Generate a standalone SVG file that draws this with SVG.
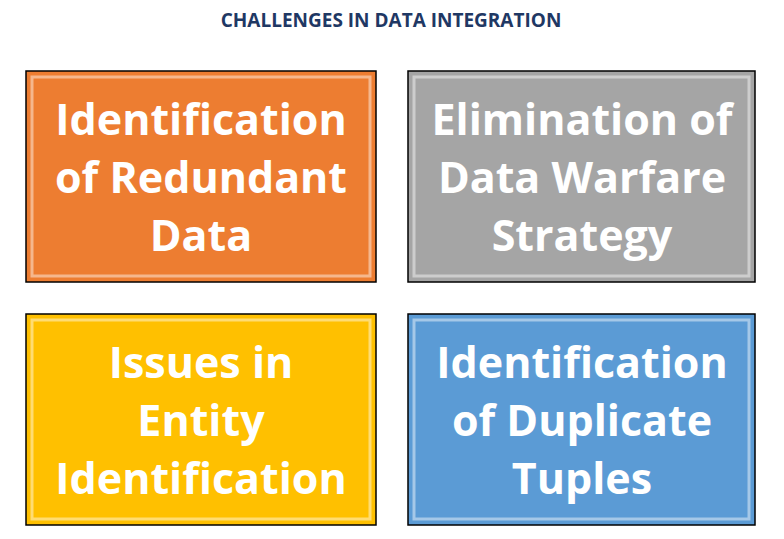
<svg xmlns="http://www.w3.org/2000/svg" width="784" height="539" viewBox="0 0 784 539">
<style>
.box{stroke:#000;stroke-width:1.5}
.edge{fill:none;stroke:#fff;stroke-opacity:0.45;stroke-width:3}
.t{font-family:"Open Sans","Liberation Sans",sans-serif;font-weight:bold;font-size:43px;fill:#fff;text-anchor:middle;dominant-baseline:central}
.title{font-family:"Open Sans","Liberation Sans",sans-serif;font-weight:bold;font-size:19px;fill:#1F3864;text-anchor:middle}
</style>
<rect width="784" height="539" fill="#fff"/>
<text class="title" x="391" y="27">CHALLENGES IN DATA INTEGRATION</text>
<g id="n1"><rect class="box" x="26" y="71" width="350" height="211" fill="#ED7D31"/><rect class="edge" x="32" y="77" width="338" height="199"/>
<text class="t" x="201" y="118">Identification</text><text class="t" x="201" y="176">of Redundant</text><text class="t" x="201" y="234">Data</text></g>
<g id="n2"><rect class="box" x="408" y="71" width="347" height="211" fill="#A5A5A5"/><rect class="edge" x="414" y="77" width="335" height="199"/>
<text class="t" x="582" y="118">Elimination of</text><text class="t" x="582" y="176">Data Warfare</text><text class="t" x="582" y="234">Strategy</text></g>
<g id="n3"><rect class="box" x="26" y="314" width="350" height="211" fill="#FFC000"/><rect class="edge" x="32" y="320" width="338" height="199"/>
<text class="t" x="201" y="361">Issues in</text><text class="t" x="201" y="419">Entity</text><text class="t" x="201" y="477">Identification</text></g>
<g id="n4"><rect class="box" x="408" y="314" width="347" height="211" fill="#5B9BD5"/><rect class="edge" x="414" y="320" width="335" height="199"/>
<text class="t" x="582" y="361">Identification</text><text class="t" x="582" y="419">of Duplicate</text><text class="t" x="582" y="477">Tuples</text></g>
<g id="connectors"/>
</svg>
